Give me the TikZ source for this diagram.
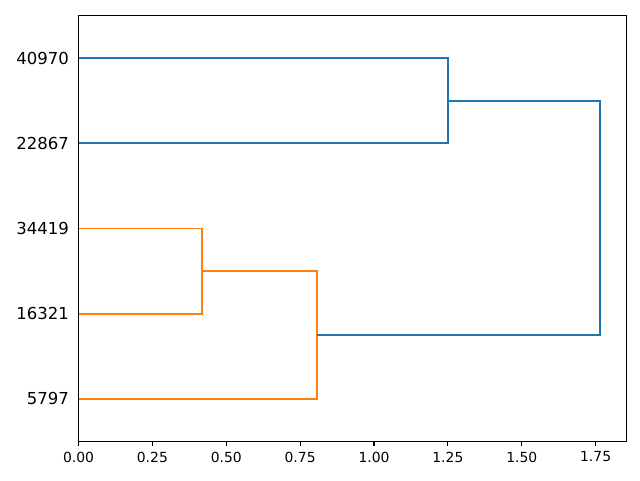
\documentclass[tikz,border=0pt]{standalone}
\usepackage{fontspec}
\setmainfont{DejaVu Sans}
\definecolor{linkblue}{HTML}{1F77B4}
\definecolor{linkorange}{HTML}{FF7F0E}
\tikzset{
  link/.style={line width=1.8pt},
  leaf/.style={anchor=east, inner sep=0pt, font=\fontsize{16.5}{18}\selectfont},
  xtick/.style={anchor=north, inner sep=0pt, font=\fontsize{13.9}{15}\selectfont}
}
\begin{document}
\begin{tikzpicture}[x=295.5pt,y=8.52pt]
            \useasboundingbox (-78.5pt,-38.5pt) rectangle (561.5pt,441.5pt);
            % leaves
            \node[leaf] (l5797)  at (-9.5pt,5)  {5797};
            \node[leaf] (l16321) at (-9.5pt,15) {16321};
            \node[leaf] (l34419) at (-9.5pt,25) {34419};
            \node[leaf] (l22867) at (-9.5pt,35) {22867};
            \node[leaf] (l40970) at (-9.5pt,45) {40970};
            % links
            \draw[link, linkorange] (0,25) -- (0.419,25) -- (0.419,15) -- (0,15);
            \draw[link, linkorange] (0.419,20) -- (0.806,20) -- (0.806,5) -- (0,5);
            \draw[link, linkblue] (0,45) -- (1.250,45) -- (1.250,35) -- (0,35);
            \draw[link, linkblue] (0.806,12.5) -- (1.766,12.5) -- (1.766,40) -- (1.250,40);
            % axes
            \draw[line width=1.1pt] (0,0) rectangle (1.854,50);
            \foreach \t/\lab in {0/0.00,0.25/0.25,0.5/0.50,0.75/0.75,1/1.00,1.25/1.25,1.5/1.50,1.75/1.75}
              \draw[line width=1.1pt] (\t,0) -- ++(0,-4.9pt) node[xtick, below=4.9pt] {\lab};
        \end{tikzpicture}
\end{document}
